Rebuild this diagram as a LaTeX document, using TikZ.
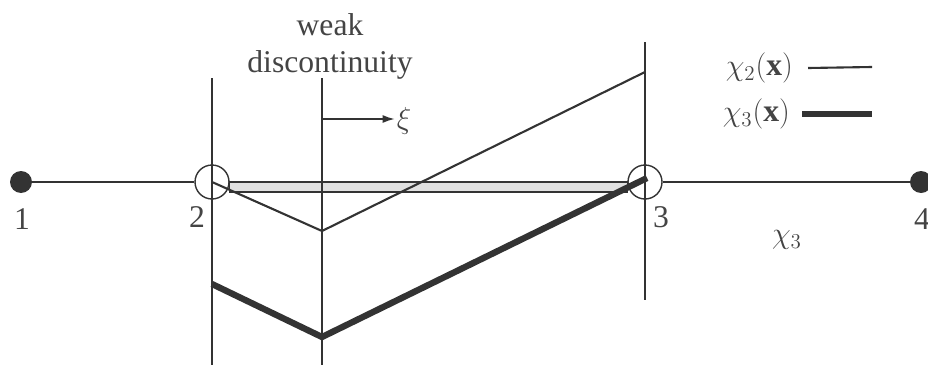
\documentclass[tikz,border=0pt]{standalone}
\usepackage{fontspec}
\setmainfont{Liberation Serif}
\usetikzlibrary{arrows.meta}
\definecolor{fegray}{HTML}{333333}
\definecolor{fetext}{HTML}{444444}
\definecolor{feband}{HTML}{E0E0E0}
\tikzset{
  fedot/.style={circle, fill=fegray, inner sep=0pt, minimum size=0.44cm},
  feopen/.style={circle, draw=fegray, line width=0.8pt, inner sep=0pt, minimum size=0.68cm},
  felbl/.style={font=\fontsize{18}{21}\selectfont, text=fetext, inner sep=1pt, align=center},
  feaxis/.style={draw=fegray, line width=0.9pt},
  fethin/.style={draw=fegray, line width=1.2pt},
  fethick/.style={draw=fegray, line width=3.6pt},
  feline/.style={-{Latex[length=2.4mm,width=1.6mm]}, line width=0.9pt, draw=fegray}
}

\begin{document}
\begin{tikzpicture}[x=0.02cm, y=-0.02cm]
  \useasboundingbox (0,0) rectangle (928,365);

  % element nodes on the axis
  \node[fedot]  (n1) at (21,182) {};
  \node[feopen] (n2) at (212,182) {};
  \node[feopen] (n3) at (645,182) {};
  \node[fedot]  (n4) at (921,182) {};

  \node[felbl] (l1) at (22,219) {1};
  \node[felbl] (l2) at (197,217) {2};
  \node[felbl] (l3) at (661,217) {3};
  \node[felbl] (l4) at (922,219) {4};
  \node[felbl] (lc3) at (787,240) {$\chi_3$};

  % enriched band between nodes 2 and 3
  \filldraw[fill=feband, draw=fegray, line width=0.7pt] (n2.east) rectangle (n3.west |- 0,192);

  \draw[feaxis] (n1) -- (n2);
  \draw[feaxis] (n3) -- (n4);

  % vertical lines through nodes and discontinuity
  \coordinate (v2t) at (212,78);
  \coordinate (v2b) at (212,365);
  \coordinate (vdt) at (322,78);
  \coordinate (vdb) at (322,365);
  \coordinate (v3t) at (645,42);
  \coordinate (v3b) at (645,300);
  \draw[feaxis] (v2t) -- (v2b);
  \draw[feaxis] (vdt) -- (vdb);
  \draw[feaxis] (v3t) -- (v3b);

  \node[felbl] (weak) at (330,46) {weak\\discontinuity};

  % local coordinate arrow
  \coordinate (xa) at (322,119);
  \node[felbl] (xi) at (404,121) {$\xi$};
  \draw[feline] (xa) -- (xa -| xi.west);

  % shape functions
  \coordinate (c2m) at (322,231);
  \coordinate (c2r) at (645,72);
  \draw[fethin] (n2.center) -- (c2m) -- (c2r);

  \coordinate (c3l) at (212,284);
  \coordinate (c3m) at (322,337);
  \coordinate (c3r) at (647,178);
  \draw[fethick] (c3l) -- (c3m) -- (c3r);

  % legend
  \node[felbl, anchor=east] (lg2) at (795,68) {$\chi_2(\mathbf{x})$};
  \node[felbl, anchor=east] (lg3) at (792,114) {$\chi_3(\mathbf{x})$};
  \coordinate (lg2e) at (872,67);
  \coordinate (lg3e) at (872,114);
  \draw[fethin] ([xshift=0.26cm]lg2.east) -- (lg2e);
  \draw[fethick] ([xshift=0.2cm]lg3.east) -- (lg3e);
\end{tikzpicture}
\end{document}
